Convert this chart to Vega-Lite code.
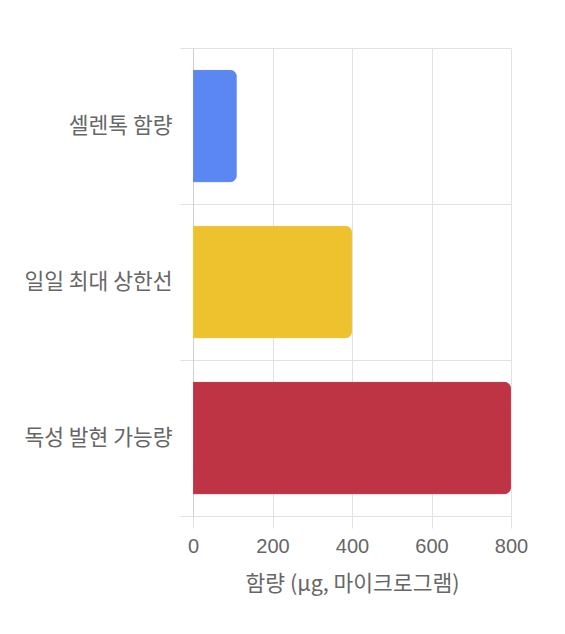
{
  "$schema": "https://vega.github.io/schema/vega-lite/v6.json",
  "autosize": "none",
  "padding": {"left": 193, "top": 48, "right": 54, "bottom": 118},
  "width": 318,
  "height": 468,
  "background": "white",
  "data": {
    "values": [
      {"item": "셀렌톡 함량", "amount": 110, "fill": "#5B87F2", "line": "#6E95F4"},
      {"item": "일일 최대 상한선", "amount": 400, "fill": "#EEC22E", "line": "#F1CA48"},
      {"item": "독성 발현 가능량", "amount": 800, "fill": "#BF3444", "line": "#C84A58"}
    ]
  },
  "mark": {
    "type": "bar",
    "height": {"band": 0.72},
    "cornerRadiusEnd": 7,
    "strokeWidth": 1
  },
  "encoding": {
    "y": {
      "field": "item",
      "type": "nominal",
      "sort": null,
      "scale": {"paddingInner": 0, "paddingOuter": 0},
      "axis": {
        "title": null,
        "tickBand": "extent",
        "grid": true,
        "gridColor": "#e2e2e2",
        "tickColor": "#e2e2e2",
        "tickSize": 13,
        "domainColor": "#cfcfcf",
        "labelFont": "Noto Sans CJK KR",
        "labelFontSize": 21.5,
        "labelColor": "#666666",
        "labelPadding": 8
      }
    },
    "x": {
      "field": "amount",
      "type": "quantitative",
      "scale": {"domain": [0, 800]},
      "axis": {
        "title": "함량 (μg, 마이크로그램)",
        "values": [0, 200, 400, 600, 800],
        "grid": true,
        "gridColor": "#e2e2e2",
        "tickColor": "#e2e2e2",
        "tickSize": 12,
        "domain": false,
        "labelFlush": false,
        "labelFont": "Liberation Sans",
        "labelFontSize": 20,
        "labelColor": "#666666",
        "labelPadding": 8,
        "titleFont": "Noto Sans CJK KR",
        "titleFontSize": 21.5,
        "titleFontWeight": "normal",
        "titleColor": "#666666",
        "titlePadding": 17
      }
    },
    "color": {"field": "fill", "type": "nominal", "scale": null},
    "stroke": {"field": "line", "type": "nominal", "scale": null}
  },
  "config": {"view": {"stroke": null}}
}
